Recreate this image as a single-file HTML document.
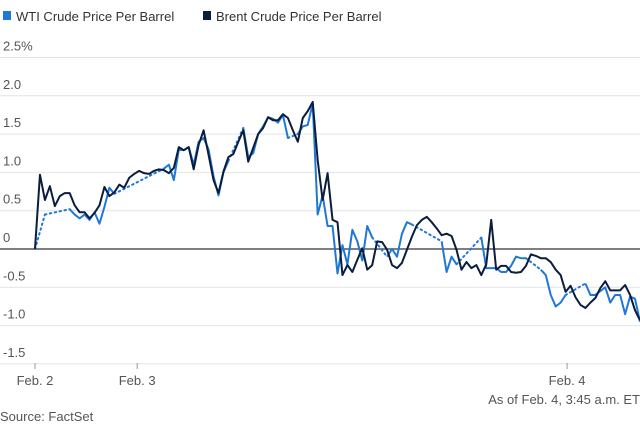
<!DOCTYPE html>
<html><head><meta charset="utf-8"><style>
body{margin:0;background:#fff;font-family:"Liberation Sans",sans-serif;}
svg{display:block}
text{font-family:"Liberation Sans",sans-serif;fill:#555;font-size:13px}
</style></head><body>
<svg id="chart" width="640" height="425">
<g>
<rect x="3" y="11" width="8" height="9" fill="#1f78d6"/>
<text x="16" y="21" fill="#333" style="fill:#333">WTI Crude Price Per Barrel</text>
<rect x="203" y="11" width="8" height="9" fill="#0b1d3d"/>
<text x="216" y="21" style="fill:#333">Brent Crude Price Per Barrel</text>
</g>
<g id="grid"></g>
<g id="series"></g>
<text x="640" y="404" text-anchor="end">As of Feb. 4, 3:45 a.m. ET</text>
<text x="0" y="421">Source: FactSet</text>
</svg>
<script>
const yTicks=[2.5,2.0,1.5,1.0,0.5,0,-0.5,-1.0,-1.5];
const yTickLabels=["2.5%","2.0","1.5","1.0","0.5","0","-0.5","-1.0","-1.5"];
const xTickPos=[0,20.6,107.3];
const xTickLabels=["Feb. 2","Feb. 3","Feb. 4"];
const brent=[0,.97,.64,.82,.56,.69,.73,.73,.57,.48,.48,.40,.47,.57,.81,.69,.74,.84,.80,.93,.98,1.02,.99,.98,1.02,1.04,1.03,.99,1.06,1.33,1.29,1.33,1.04,1.36,1.55,1.23,.90,.73,1.01,1.20,1.24,1.40,1.55,1.14,1.32,1.50,1.58,1.72,1.68,1.68,1.76,1.71,1.55,1.40,1.71,1.80,1.92,1.16,.64,.99,.38,.35,-.34,-.21,-.30,-.14,.01,-.27,-.21,.10,.09,-.01,-.21,-.25,-.18,-.01,.16,.31,.38,.42,.35,.27,.18,.20,.17,-.01,-.27,-.17,-.25,-.21,-.34,-.20,.38,-.27,-.22,-.22,-.30,-.31,-.30,-.22,-.07,-.09,-.12,-.12,-.17,-.27,-.34,-.56,-.48,-.63,-.73,-.77,-.70,-.64,-.51,-.42,-.54,-.54,-.54,-.47,-.60,-.80,-.93];
const wti=[0,null,0.45,null,null,null,null,0.52,0.45,0.40,
0.45,0.38,0.48,0.33,0.55,0.80,0.72,null,null,null,
null,null,null,null,null,null,1.05,1.10,0.90,1.30,
1.29,1.33,1.10,1.40,1.45,1.30,0.95,0.70,1.00,1.15,
null,null,1.58,1.20,1.25,1.50,1.60,1.72,1.70,1.65,
1.75,1.45,null,1.50,1.60,1.62,1.90,
0.45,0.70,0.30,0.30,-0.32,0.05,-0.20,0.25,0.10,-0.15,
0.30,0.15,null,null,-0.10,0.00,-0.10,0.20,0.35,0.32,
null,null,null,null,null,0.10,-0.30,-0.10,-0.20,null,
null,null,null,0.15,-0.25,-0.25,-0.25,-0.30,-0.30,-0.22,
-0.10,-0.12,-0.12,null,null,-0.27,-0.34,-0.60,-0.75,-0.70,
-0.60,null,null,null,-0.45,-0.60,-0.60,-0.55,-0.50,-0.70,
-0.60,-0.60,-0.85,-0.62,-0.65,-0.95];
const NS="http://www.w3.org/2000/svg";
const x0=35,x1=640,n=brent.length;
const X=t=>x0+t*(x1-x0)/(n-1);
const Y=v=>249-v*76.6;
const grid=document.getElementById('grid'),ser=document.getElementById('series');
function mk(tag,attrs,parent){const e=document.createElementNS(NS,tag);for(const k in attrs)e.setAttribute(k,attrs[k]);parent.appendChild(e);return e;}
yTicks.forEach((v,i)=>{
 const l=mk('line',{x1:0,x2:640,y1:Y(v),y2:Y(v),stroke:v===0?'#555':'#e4e4e4','stroke-width':v===0?1.5:1},grid);
 
 
 const t=mk('text',{x:3,y:Y(v)-7},grid);t.textContent=yTickLabels[i];
 
 
});
xTickPos.forEach((p,i)=>{
 const tk=mk('line',{x1:X(p),x2:X(p),y1:363,y2:369,stroke:'#999'},grid);
 
 
 const t=mk('text',{x:X(p),y:385,'text-anchor':'middle'},grid);t.textContent=xTickLabels[i];
 
 
});
// WTI dotted across gaps
let dd='';let last=null;
wti.forEach((v,i)=>{if(v!==null){if(last!==null&&i-last>1)dd+=`M${X(last)},${Y(wti[last])}L${X(i)},${Y(v)}`;last=i;}});
const dot=mk('path',{d:dd,fill:'none',stroke:'#1f78d6','stroke-width':2,'stroke-dasharray':'1.5 3.5','stroke-linecap':'round'},ser);


let ds='';let prev=false;
wti.forEach((v,i)=>{if(v===null){prev=false;return;}ds+=(prev?'L':'M')+X(i)+','+Y(v);prev=true;});
const w=mk('path',{d:ds,fill:'none',stroke:'#1f78d6','stroke-width':2,'stroke-linejoin':'round'},ser);


const b=mk('path',{d:brent.map((v,i)=>(i?'L':'M')+X(i)+','+Y(v)).join(''),fill:'none',stroke:'#0b1d3d','stroke-width':2,'stroke-linejoin':'round'},ser);


</script>
</body></html>
